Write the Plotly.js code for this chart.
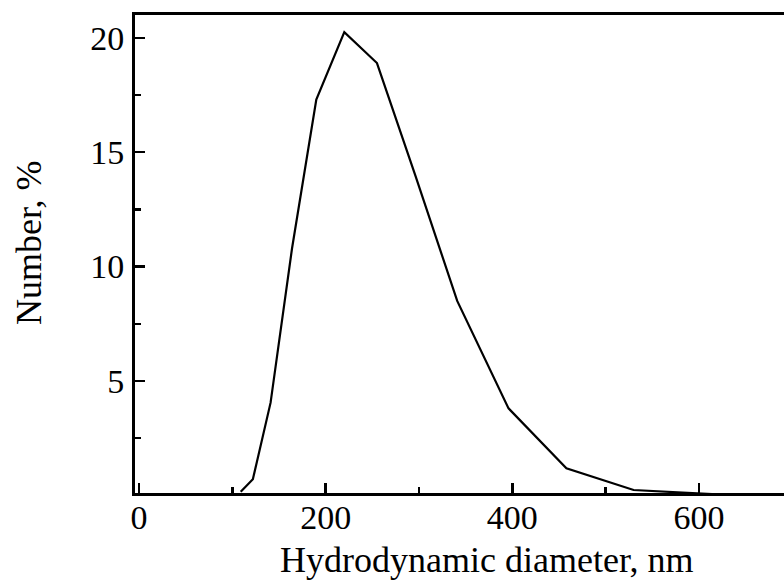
<!DOCTYPE html>
<html>
<head>
<meta charset="utf-8">
<script src="https://cdn.plot.ly/plotly-3.0.1.min.js"></script>
<style>
html,body{margin:0;padding:0;overflow:hidden;background:#fff;width:784px;height:586px;}
#chart{width:840px;height:586px;}
</style>
</head>
<body>
<div id="chart"></div>
<script>
var diameter = [109, 122, 141, 164, 190, 220, 255, 296, 341, 396, 458, 530, 615, 712];
var number   = [0.15, 0.7, 4.05, 10.8, 17.3, 20.25, 18.9, 14.0, 8.5, 3.8, 1.18, 0.23, 0.05, 0.0];
var xTickVals = [0, 200, 400, 600];
var xTickText = ['0', '200', '400', '600'];
var yTickVals = [5, 10, 15, 20];
var yTickText = ['5', '10', '15', '20'];
var xTitle = 'Hydrodynamic diameter, nm';
var yTitle = 'Number, %';

var font = 'Liberation Serif, Times New Roman, serif';

var trace = {
  x: diameter, y: number, type: 'scatter', mode: 'lines',
  line: {color: '#000', width: 2.2}, hoverinfo: 'none'
};

var layout = {
  width: 840, height: 586,
  margin: {l: 135, r: 3, t: 15, b: 93},
  paper_bgcolor: '#fff', plot_bgcolor: '#fff',
  showlegend: false,
  font: {family: font, color: '#000', size: 34},
  xaxis: {
    range: [-4.3, 748], showgrid: false, zeroline: false,
    showline: true, linecolor: '#000', linewidth: 3, mirror: true,
    ticks: 'inside', ticklen: 10, tickwidth: 2.5, tickcolor: '#000',
    tickvals: xTickVals, ticktext: xTickText, ticklabelstandoff: -8,
    tickfont: {family: font, size: 34, color: '#000'},
    minor: {tickvals: [100, 300, 500, 700], ticks: 'inside', ticklen: 6, tickwidth: 2.5, tickcolor: '#000', showgrid: false}
  },
  yaxis: {
    range: [0.1, 21], showgrid: false, zeroline: false,
    showline: true, linecolor: '#000', linewidth: 3, mirror: false,
    ticks: 'inside', ticklen: 10, tickwidth: 2.5, tickcolor: '#000',
    tickvals: yTickVals, ticktext: yTickText, ticklabelstandoff: 1,
    tickfont: {family: font, size: 34, color: '#000'},
    minor: {tickvals: [2.5, 7.5, 12.5, 17.5], ticks: 'inside', ticklen: 6, tickwidth: 2.5, tickcolor: '#000', showgrid: false}
  },
  annotations: [
    {text: xTitle, xref: 'paper', yref: 'paper', x: 0.5, y: -0.140, xanchor: 'center', yanchor: 'middle',
     showarrow: false, font: {family: font, size: 36, color: '#000'}},
    {text: yTitle, xref: 'paper', yref: 'paper', x: -0.151, y: 0.525, xanchor: 'center', yanchor: 'middle',
     textangle: -90, showarrow: false, font: {family: font, size: 36, color: '#000'}}
  ]
};

Plotly.newPlot('chart', [trace], layout, {displayModeBar: false, staticPlot: true});
</script>
</body>
</html>
